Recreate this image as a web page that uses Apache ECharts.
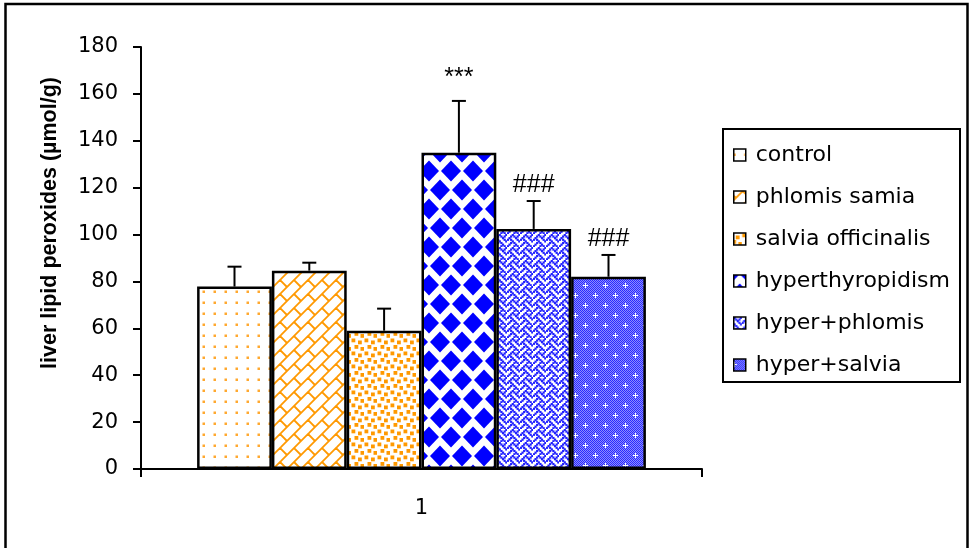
<!DOCTYPE html>
<html>
<head>
<meta charset="utf-8">
<script src="https://cdn.jsdelivr.net/npm/echarts@6/dist/echarts.min.js"></script>
<style>
html,body{margin:0;padding:0;background:#fff;}
#chart{width:969px;height:548px;}
</style>
</head>
<body>
<div id="chart"></div>
<script>
// ---- data ----
const categories = ['1'];
const seriesNames = ['control', 'phlomis samia', 'salvia officinalis', 'hyperthyropidism', 'hyper+phlomis', 'hyper+salvia'];
const means = [77.8, 84.6, 59.0, 134.9, 102.4, 82.0];
const upperErrors = [8.5, 3.4, 9.4, 22.1, 11.9, 9.3];
const marks = ['', '', '', '***', '###', '###'];
const yTickMin = 0, yTickMax = 180, yTickStep = 20;
const yTitle = 'liver lipid peroxides (\u00b5mol/g)';

// ---- patterns ----
const ORANGE = '#ff9900', BLUE = '#0000ff';
function mk(w, h) { const c = document.createElement('canvas'); c.width = w; c.height = h; const g = c.getContext('2d'); g.fillStyle = '#fff'; g.fillRect(0, 0, w, h); return [c, g]; }

function patDots() {
  const [c, g] = mk(11, 11);
  g.fillStyle = '#ffa82e';
  g.fillRect(4.5, 4.5, 2.5, 2.5);
  return c;
}
function patBricks() {
  const T = 28;
  const [c, g] = mk(T, T);
  const w = T / Math.SQRT2, h = w / 2;
  g.save();
  g.rotate(-Math.PI / 4);
  g.strokeStyle = ORANGE; g.lineWidth = 1.8;
  for (let k = -12; k <= 12; k++) {
    g.beginPath(); g.moveTo(-200, k * h); g.lineTo(200, k * h); g.stroke();
    const off = (k % 2 === 0) ? 0 : w / 2;
    for (let m = -12; m <= 12; m++) {
      g.beginPath(); g.moveTo(m * w + off, k * h); g.lineTo(m * w + off, (k + 1) * h); g.stroke();
    }
  }
  g.restore();
  return c;
}
function patConfetti() {
  const [c, g] = mk(13, 13);
  g.fillStyle = ORANGE;
  [[0.5, 0.5], [7, 2.5], [3.5, 7], [9.5, 9]].forEach(p => g.fillRect(p[0], p[1], 3.8, 3.8));
  return c;
}
function patDiamonds() {
  const W = 22, H = 38;
  const [c, g] = mk(W, H);
  g.fillStyle = BLUE;
  const d = (cx, cy) => { g.beginPath(); g.moveTo(cx, cy - 10.5); g.lineTo(cx + 10, cy); g.lineTo(cx, cy + 10.5); g.lineTo(cx - 10, cy); g.closePath(); g.fill(); };
  [[0, 0], [W, 0], [0, H], [W, H], [W / 2, H / 2]].forEach(p => d(p[0], p[1]));
  return c;
}
function patWeave() {
  const bits = [0x11, 0x2A, 0x44, 0xA2, 0x11, 0x28, 0x44, 0x8A];
  const S = 13, k = S / 8;
  const [c, g] = mk(S, S);
  g.fillStyle = '#2020ff';
  bits.forEach((b, r) => { for (let col = 0; col < 8; col++) if (b & (0x80 >> col)) g.fillRect(col * k - 0.2, r * k - 0.2, k + 0.6, k + 0.6); });
  return c;
}
function patFine() {
  const [c, g] = mk(20, 20);
  for (let y = 0; y < 20; y++) for (let x = 0; x < 20; x++) { g.fillStyle = ((x + y) % 2 === 0) ? '#2a2aff' : '#8c8cff'; g.fillRect(x, y, 1, 1); }
  g.fillStyle = '#fff';
  [[5, 5], [15, 15]].forEach(p => { g.fillRect(p[0] - 2, p[1], 5, 1); g.fillRect(p[0], p[1] - 2, 1, 5); });
  return c;
}
const patterns = [patDots(), patBricks(), patConfetti(), patDiamonds(), patWeave(), patFine()];

// ---- chart ----
const chart = echarts.init(document.getElementById('chart'), null, { renderer: 'canvas' });
const GAP = 0.2;
const barSeries = seriesNames.map((name, i) => ({
  name: name,
  type: 'bar',
  data: [means[i]],
  barGap: '0%',
  barCategoryGap: (GAP * 100) + '%',
  itemStyle: { color: { image: patterns[i], repeat: 'repeat' }, borderColor: '#000', borderWidth: 2.5 },
  emphasis: { disabled: true },
  z: 2
}));

// asterisks sit high in the glyph box, so they get a larger lift
const markLift = { '*': 10, '#': 3 };

const errSeries = {
  type: 'custom',
  name: 'err',
  coordinateSystem: 'cartesian2d',
  silent: true,
  z: 5,
  clip: false,
  data: seriesNames.map((n, i) => [0, means[i] + upperErrors[i], means[i], i]),
  renderItem: function (params, api) {
    const i = api.value(3);
    const base = api.coord([api.value(0), api.value(2)]);
    const top = api.coord([api.value(0), api.value(1)]);
    const band = api.size([1, 0])[0];
    const n = seriesNames.length;
    const bw = band * (1 - GAP) / n;
    const x = base[0] - n * bw / 2 + (i + 0.5) * bw;
    const ls = { stroke: '#000', lineWidth: 2 };
    const children = [
      { type: 'line', shape: { x1: x, y1: base[1], x2: x, y2: top[1] }, style: ls },
      { type: 'line', shape: { x1: x - 7, y1: top[1], x2: x + 7, y2: top[1] }, style: ls }
    ];
    if (marks[i]) {
      const lift = markLift[marks[i][0]] || 4;
      children.push({ type: 'text', style: { text: marks[i], x: x, y: top[1] - lift, align: 'center', verticalAlign: 'bottom', fontSize: 25, fontFamily: 'Liberation Sans', fill: '#000' } });
    }
    return { type: 'group', children: children };
  }
};

const option = {
  animation: false,
  backgroundColor: '#fff',
  grid: { left: 141, right: 267, top: 47, bottom: 79, containLabel: false },
  xAxis: {
    type: 'category',
    data: categories,
    axisLine: { show: true, lineStyle: { color: '#000', width: 2 } },
    axisTick: { show: true, length: 8, lineStyle: { color: '#000', width: 2 } },
    axisLabel: { margin: 29, fontSize: 21, fontFamily: 'DejaVu Sans', color: '#000' },
    splitLine: { show: false }
  },
  yAxis: {
    type: 'value',
    min: yTickMin, max: yTickMax, interval: yTickStep,
    name: yTitle,
    nameLocation: 'middle',
    nameGap: 80,
    nameTextStyle: { fontFamily: 'Liberation Sans', fontWeight: 'bold', fontSize: 21.5, color: '#000', padding: [0, 0, 0, 70] },
    axisLine: { show: true, lineStyle: { color: '#000', width: 2 } },
    axisTick: { show: true, length: 8, lineStyle: { color: '#000', width: 2 } },
    axisLabel: { margin: 23, fontSize: 21, fontFamily: 'DejaVu Sans', color: '#000' },
    splitLine: { show: false }
  },
  legend: {
    data: seriesNames,
    orient: 'vertical',
    left: 728,
    top: 139,
    itemWidth: 22,
    itemHeight: 12,
    itemGap: 20,
    icon: 'path://M0,0H10V10H0Z',
    itemStyle: { borderColor: '#000', borderWidth: 1.5 },
    textStyle: { fontFamily: 'DejaVu Sans', fontSize: 22, lineHeight: 22, color: '#000' },
    selectedMode: false
  },
  graphic: [
    { type: 'rect', shape: { x: 5.5, y: 4, width: 962, height: 600 }, style: { fill: 'none', stroke: '#000', lineWidth: 2.5 }, silent: true, z: 100 },
    { type: 'rect', shape: { x: 723, y: 129, width: 237, height: 253 }, style: { fill: 'none', stroke: '#000', lineWidth: 2 }, silent: true, z: 100 }
  ],
  series: barSeries.concat([errSeries])
};
chart.setOption(option);
</script>
</body>
</html>
